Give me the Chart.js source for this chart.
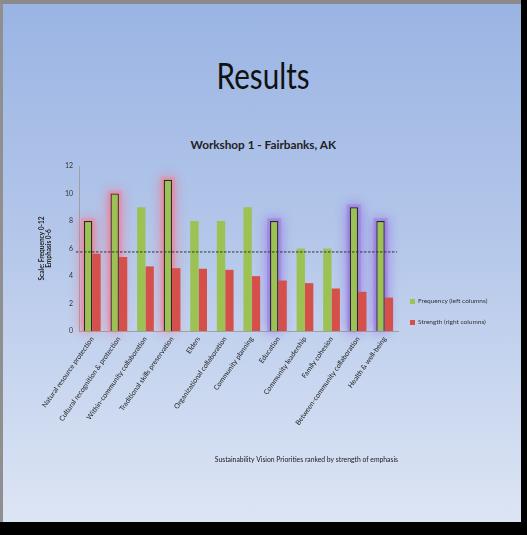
<!DOCTYPE html>
<html>
<head>
<meta charset="utf-8">
<script src="https://cdn.jsdelivr.net/npm/chart.js@4.4.1/dist/chart.umd.min.js"></script>
<style>
  html, body { margin:0; padding:0; width:527px; height:535px; overflow:hidden; background:#000; }
  #slide { position:absolute; left:0; top:0; width:518px; height:518px;
    border-top:4px solid #8a8a8a; border-left:3px solid #8f8f8f;
    background: linear-gradient(to bottom, #9ab4e3 0%, #b4c7ea 45%, #dce5f4 100%); }
  #title { position:absolute; left:0; width:527px; top:52px; text-align:center;
    font-family: Lato, "Open Sans", sans-serif; font-size:37px; color:#111; }
  #title span { display:inline-block; transform:scaleX(0.8); }
  #sub { position:absolute; left:0; width:527px; top:137px; text-align:center;
    font-family: Lato, "Open Sans", sans-serif; font-weight:bold; font-size:12px; color:#222; }
  #sub span { display:inline-block; transform:scaleX(0.98); }
  #chart { position:absolute; left:0; top:0; }
  .leg { position:absolute; left:410px; font-family: Lato, "Open Sans", sans-serif; font-size:6.5px; color:#333; }
  .leg span { display:inline-block; width:5px; height:5px; margin-right:3px; vertical-align:middle; }
</style>
</head>
<body>
<div id="slide"></div>
<div id="title"><span>Results</span></div>
<div id="sub"><span>Workshop 1 - Fairbanks, AK</span></div>
<canvas id="chart" width="527" height="535"></canvas>
<div class="leg" style="top:297px"><span style="background:#9bc253"></span>Frequency (left columns)</div>
<div class="leg" style="top:318px"><span style="background:#d5504b"></span>Strength (right columns)</div>
<script>
const categories = [
  "Natural resource protection",
  "Cultural recognition & protection",
  "Within-community collaboration",
  "Traditional skills preservation",
  "Elders",
  "Organizational collaboration",
  "Community planning",
  "Education",
  "Community leadership",
  "Family cohesion",
  "Between-community collaboration",
  "Health & well-being"
];
const frequency = [8, 10, 9, 11, 8, 8, 9, 8, 6, 6, 9, 8];
const strength = [5.62, 5.38, 4.70, 4.57, 4.53, 4.45, 3.99, 3.67, 3.48, 3.09, 2.85, 2.43];
const threshold = 5.75;
const yTicks = [0, 2, 4, 6, 8, 10, 12];
const pinkHighlight = [0, 1, 3];
const purpleHighlight = [7, 10, 11];

const highlighted = i => pinkHighlight.includes(i) || purpleHighlight.includes(i);

const glowPlugin = {
  id: 'glow',
  beforeDatasetsDraw(chart) {
    const ctx = chart.ctx;
    const meta = chart.getDatasetMeta(0);
    meta.data.forEach((bar, i) => {
      let col = null, fill = null;
      if (pinkHighlight.includes(i)) { col = 'rgba(240,110,140,0.9)'; fill = 'rgba(238,140,160,0.45)'; }
      if (purpleHighlight.includes(i)) { col = 'rgba(140,95,225,0.9)'; fill = 'rgba(160,125,225,0.45)'; }
      if (!col) return;
      const w = bar.width;
      ctx.save();
      ctx.shadowColor = col;
      ctx.shadowBlur = 12;
      ctx.fillStyle = fill;
      ctx.fillRect(bar.x - w/2 - 3, bar.y - 3, w + 6, bar.base - bar.y + 3);
      ctx.fillRect(bar.x - w/2 - 1.5, bar.y - 1.5, w + 3, bar.base - bar.y + 1.5);
      ctx.restore();
    });
  },
  afterDatasetsDraw(chart) {
    const ctx = chart.ctx;
    const y = chart.scales.y.getPixelForValue(threshold);
    const a = chart.chartArea;
    ctx.save();
    ctx.strokeStyle = '#333';
    ctx.lineWidth = 1;
    ctx.setLineDash([2.5, 1.5]);
    ctx.beginPath();
    ctx.moveTo(a.left - 3, y);
    ctx.lineTo(a.right - 1, y);
    ctx.stroke();
    ctx.restore();
  }
};

new Chart(document.getElementById('chart'), {
  type: 'bar',
  data: {
    labels: categories,
    datasets: [
      { label: 'Frequency (left columns)', data: frequency,
        backgroundColor: '#9bc253',
        borderColor: categories.map((c, i) => highlighted(i) ? '#2a2a2a' : 'rgba(0,0,0,0)'),
        borderWidth: categories.map((c, i) => highlighted(i) ? 1.3 : 0),
        categoryPercentage: 0.63, barPercentage: 1.0 },
      { label: 'Strength (right columns)', data: strength,
        backgroundColor: '#d5504b',
        categoryPercentage: 0.63, barPercentage: 1.0 }
    ]
  },
  options: {
    responsive: false,
    animation: false,
    layout: { padding: { left: 38, top: 166, right: 129, bottom: 67 } },
    plugins: { legend: { display: false }, tooltip: { enabled: false } },
    scales: {
      x: {
        grid: { display: false, drawTicks: false },
        border: { color: '#a0a0a0' },
        ticks: { maxRotation: 55, minRotation: 55, autoSkip: false, padding: 4,
          color: '#222', font: { family: 'Lato, "Open Sans", sans-serif', size: 7 } },
        title: { display: true, align: 'end',
          text: 'Sustainability Vision Priorities ranked by strength of emphasis',
          color: '#1a1a1a', font: { family: 'Lato, "Open Sans", sans-serif', size: 6.8 } },
        afterFit(s) { s.height = 137; }
      },
      y: {
        min: 0, max: 12,
        afterBuildTicks(s) { s.ticks = yTicks.map(v => ({ value: v })); },
        grid: { display: false, drawOnChartArea: false, drawTicks: true, tickLength: 3, color: '#a0a0a0' },
        border: { color: '#a0a0a0' },
        ticks: { color: '#333', padding: 3, font: { family: 'Lato, "Open Sans", sans-serif', size: 7 } },
        title: { display: true, text: ['Scale: Frequency 0-12', 'Emphasis 0-6'],
          color: '#222', padding: { top: 0, bottom: 0 },
          font: { family: 'Lato, "Open Sans", sans-serif', size: 6.5, weight: 'bold', lineHeight: 1.1 } },
        afterFit(s) { s.width = 41; }
      }
    }
  },
  plugins: [glowPlugin]
});
</script>
</body>
</html>
